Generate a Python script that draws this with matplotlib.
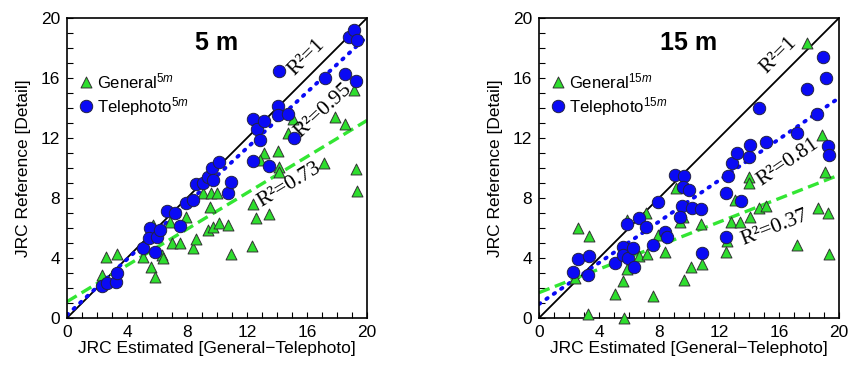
"""JRC estimado vs referencia para las distancias de 5 m y 15 m."""

import matplotlib

matplotlib.use("Agg")
import matplotlib.pyplot as plt
import numpy as np

plt.rcParams["font.family"] = ["Liberation Sans", "DejaVu Sans"]
plt.rcParams["mathtext.fontset"] = "custom"
plt.rcParams["mathtext.rm"] = "Liberation Sans"
plt.rcParams["mathtext.it"] = "Liberation Sans:italic"

# ----------------------------------------------------------------------
# Datos
# ----------------------------------------------------------------------

tele_5_x = [2.31, 2.64, 3.27, 3.31, 5.04, 5.53, 5.49, 5.87, 5.98, 6.2, 6.64, 7.2, 7.53,
            7.93, 8.42, 8.58, 9.09, 9.42, 9.64, 9.76, 10.16, 10.76, 10.93, 12.38, 12.64,
            13.13, 12.87, 12.38, 13.47, 14.04, 14.04, 14.76, 15.16, 14.13, 17.2, 18.53,
            19.24, 18.82, 19.13, 19.36]
tele_5_y = [2.13, 2.36, 2.42, 2.98, 4.64, 5.98, 5.31, 4.42, 5.42, 5.87, 7.16, 6.98, 6.13,
            7.69, 7.87, 8.91, 9.02, 9.42, 9.98, 9.2, 10.38, 8.31, 9.09, 13.24, 12.6,
            13.13, 11.87, 10.49, 10.16, 14.13, 13.53, 13.58, 11.98, 16.49, 15.98, 16.27,
            15.8, 18.76, 19.2, 18.53]

gen_5_x = [2.31, 2.6, 3.31, 5.04, 5.58, 5.87, 6.31, 6.38, 5.76, 6.87, 6.98, 7.53, 7.93,
           8.38, 8.58, 9.09, 9.6, 10.02, 9.53, 9.38, 9.71, 10.16, 10.76, 10.93, 12.38,
           12.6, 13.47, 12.31, 13.16, 12.87, 14.04, 14.13, 14.13, 15.09, 14.71, 17.16,
           17.87, 18.53, 19.13, 19.24, 19.36]
gen_5_y = [2.87, 4.09, 4.27, 4.09, 3.42, 2.76, 4.2, 3.98, 6.2, 6.42, 4.98, 4.98, 6.76,
           4.64, 5.24, 8.31, 8.36, 8.31, 7.38, 5.87, 6.09, 6.36, 6.2, 4.27, 7.6,
           6.64, 6.93, 4.8, 10.98, 10.53, 11.13, 10.09, 9.76, 13.24, 12.31, 10.31,
           13.42, 12.91, 15.2, 9.91, 8.49]

tele_15_x = [2.29, 2.62, 3.33, 3.29, 5.07, 5.62, 5.58, 5.84, 5.96, 6.29, 6.36, 6.67, 7.13,
             7.62, 7.91, 8.4, 8.56, 9.07, 9.69, 9.58, 10.02, 9.53, 9.4, 10.18, 10.8,
             10.89, 12.44, 12.44, 12.62, 12.84, 13.18, 13.47, 14.02, 14.07, 15.13, 14.69,
             17.18, 17.89, 18.91, 19.11, 18.56, 19.29, 19.36]
tele_15_y = [3.09, 3.91, 4.13, 2.87, 3.64, 4.76, 4.2, 6.27, 3.98, 4.64, 3.42, 6.64, 6.09,
             4.87, 7.76, 5.76, 5.38, 9.53, 9.47, 8.71, 8.53, 7.47, 6.76, 7.31, 7.24,
             4.31, 8.36, 5.42, 9.47, 10.36, 11.02, 7.82, 10.71, 11.53, 11.76, 13.98,
             12.36, 15.24, 17.38, 16.02, 13.58, 11.49, 10.87]

gen_15_x = [2.4, 2.62, 3.36, 3.29, 5.07, 5.58, 5.69, 5.84, 5.89, 6.69, 7.13, 7.18, 7.62,
            7.96, 8.4, 9.11, 9.47, 9.58, 9.4, 9.69, 10.13, 10.8, 10.89, 12.51, 12.44,
            12.8, 13.07, 13.4, 14.02, 14.02, 14.07, 14.69, 15.13, 17.18, 17.89, 18.58,
            18.89, 19.07, 19.24, 19.33]
gen_15_y = [2.64, 6.02, 5.47, 0.27, 1.6, 2.49, 0.0, 3.24, 6.53, 4.13, 6.98, 4.27, 1.47,
            5.53, 4.42, 8.64, 7.09, 6.71, 6.42, 2.53, 3.42, 6.24, 3.6, 5.16, 4.42,
            6.42, 7.87, 6.42, 9.38, 8.98, 6.76, 7.31, 7.49, 4.87, 18.31, 7.36,
            12.2, 9.76, 6.98, 4.27]

# Ajustes lineales (pendiente, intercepto) y R² reportados
fit_tele_5 = (0.928, 0.2)
fit_gen_5 = (0.604, 1.09)
fit_tele_15 = (0.687, 0.93)
fit_gen_15 = (0.392, 1.69)

r2_tele = ["0.95", "0.81"]
r2_gen = ["0.73", "0.37"]
titles = ["5 m", "15 m"]
dist_tags = ["5m", "15m"]

BLUE = "#0a0af5"
GREEN = "#2ede2e"
GREEN_LINE = "#33e633"

S_TRI = 62
S_CIR = 80


def draw_panel(ax, gx, gy, tx, ty, fit_t, fit_g, r2_t, r2_g, title, tag, lbl_pos, leg_x):
    """Un panel con identidad, dos ajustes y los puntos."""
    xs = np.array([0, 20])
    ax.plot(xs, xs, color="black", lw=1.3, zorder=2)

    ax.plot(xs, fit_t[0] * xs + fit_t[1], color=BLUE, lw=2.8, ls=(0, (0.4, 1.9)),
            dash_capstyle="round", zorder=2)
    ax.plot(xs, fit_g[0] * xs + fit_g[1], color=GREEN_LINE, lw=2.4, ls=(0, (3.4, 1.7)),
            zorder=2)

    ax.scatter(gx, gy, marker="^", s=S_TRI, color=GREEN, edgecolor="#333333", lw=0.7,
               zorder=3, clip_on=False)
    ax.scatter(tx, ty, marker="o", s=S_CIR, color=BLUE, edgecolor="#222244", lw=0.7,
               zorder=4)

    ax.set_xlim(0, 20)
    ax.set_ylim(0, 20)
    ax.set_xticks(range(0, 21, 4))
    ax.set_yticks(range(0, 21, 4))
    ax.set_xticks(range(0, 21), minor=True)
    ax.set_yticks(range(0, 21), minor=True)
    ax.tick_params(which="both", direction="in", length=4, width=0.8, labelsize=12.5,
                   pad=5)
    for sp in ax.spines.values():
        sp.set_linewidth(1.2)

    ax.set_xlabel("JRC Estimated [General\u2212Telephoto]", fontsize=12.5, labelpad=1)
    ax.set_ylabel("JRC Reference [Detail]", fontsize=12.5, labelpad=7)

    ax.text(0.5, 0.917, title, transform=ax.transAxes, ha="center", va="center",
            fontsize=18, fontweight="bold")

    # leyenda manual (marcador + etiqueta con superíndice)
    ax.scatter([leg_x], [15.75], marker="^", s=S_TRI, color=GREEN, edgecolor="#333333",
               lw=0.7)
    ax.scatter([leg_x], [14.1], marker="o", s=S_CIR, color=BLUE, edgecolor="#222244",
               lw=0.7)
    ax.text(leg_x + 0.72, 15.75, "General$^{\\mathit{" + tag + "}}$", fontsize=12,
            va="center")
    ax.text(leg_x + 0.72, 14.1, "Telephoto$^{\\mathit{" + tag + "}}$", fontsize=12,
            va="center")

    serif = dict(family=["Liberation Serif", "DejaVu Serif"], fontsize=15.5,
                 ha="center", va="center", rotation_mode="anchor")
    ax.text(*lbl_pos[0], "R\u00b2=1", rotation=45, **serif)
    ax.text(*lbl_pos[1], "R\u00b2=" + r2_t,
            rotation=np.degrees(np.arctan(fit_t[0])), **serif)
    ax.text(*lbl_pos[2], "R\u00b2=" + r2_g,
            rotation=np.degrees(np.arctan(fit_g[0])), **serif)


fig = plt.figure(figsize=(8.48, 3.70), dpi=100)
ax1 = fig.add_axes([0.079, 0.1405, 0.3538, 0.811])
ax2 = fig.add_axes([0.6356, 0.1405, 0.3538, 0.811])

draw_panel(ax1, gen_5_x, gen_5_y, tele_5_x, tele_5_y, fit_tele_5, fit_gen_5,
           r2_tele[0], r2_gen[0], titles[0], dist_tags[0],
           [(16.0, 17.4), (17.1, 13.8), (14.85, 8.9)], 1.25)
draw_panel(ax2, gen_15_x, gen_15_y, tele_15_x, tele_15_y, fit_tele_15, fit_gen_15,
           r2_tele[1], r2_gen[1], titles[1], dist_tags[1],
           [(15.95, 17.5), (16.6, 10.4), (15.7, 6.0)], 1.3)

fig.savefig("out.png", dpi=100)
